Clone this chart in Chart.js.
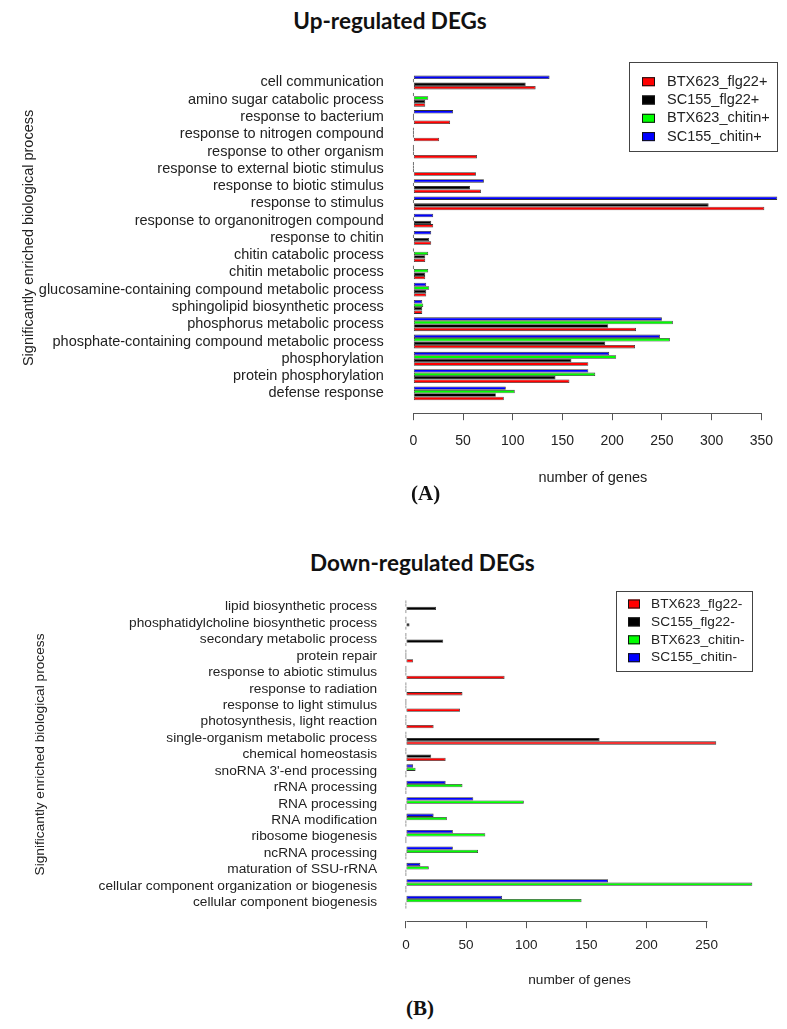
<!DOCTYPE html>
<html>
<head>
<meta charset="utf-8">
<script src="https://cdn.jsdelivr.net/npm/chart.js@4.4.1/dist/chart.umd.min.js"></script>
<style>
  body { margin: 0; background: #fff; }
  #page { position: relative; width: 787px; height: 1029px; background: #fff; overflow: hidden; }
  .panel { position: absolute; left: 0; }
  .title { position: absolute; font: bold 22.5px Lato, "Open Sans", sans-serif; color: #111; line-height: 26px; white-space: nowrap; }
  .tag { position: absolute; font: bold 21px "Liberation Serif", "Times New Roman", serif; color: #111; }
</style>
</head>
<body>
<div id="page">
  <div class="title" style="left:-3.5px;top:8px;width:787px;text-align:center">Up-regulated DEGs</div>
  <canvas id="chart-up" class="panel" width="787" height="490" style="top:0"></canvas>
  <div class="tag" style="left:411px;top:481px">(A)</div>
  <div class="title" style="left:310px;top:550px">Down-regulated DEGs</div>
  <canvas id="chart-down" class="panel" width="787" height="460" style="top:535px"></canvas>
  <div class="tag" style="left:406px;top:996px">(B)</div>
</div>
<script>
// ---- data (categories listed top to bottom as shown) ----
const upCategories = [
  'cell communication',
  'amino sugar catabolic process',
  'response to bacterium',
  'response to nitrogen compound',
  'response to other organism',
  'response to external biotic stimulus',
  'response to biotic stimulus',
  'response to stimulus',
  'response to organonitrogen compound',
  'response to chitin',
  'chitin catabolic process',
  'chitin metabolic process',
  'glucosamine-containing compound metabolic process',
  'sphingolipid biosynthetic process',
  'phosphorus metabolic process',
  'phosphate-containing compound metabolic process',
  'phosphorylation',
  'protein phosphorylation',
  'defense response',
];
const upBtxFlg22 =   [123, 12, 37, 26, 64, 63, 68, 353, 20, 18, 12, 12, 13, 9, 224, 223, 176, 157, 91];
const upScFlg22 =    [113, 12, 0, 0, 0, 0, 57, 297, 18, 16, 12, 12, 13, 9, 196, 193, 159, 143, 83];
const upBtxChitin =  [0, 15, 0, 0, 0, 0, 0, 0, 0, 0, 15, 15, 16, 10, 261, 258, 204, 183, 102];
const upScChitin =   [137, 0, 40, 0, 0, 0, 71, 366, 20, 18, 0, 0, 13, 9, 250, 248, 197, 176, 93];
const upSeriesNames = ['BTX623_flg22+', 'SC155_flg22+', 'BTX623_chitin+', 'SC155_chitin+'];
const upTicks = [0, 50, 100, 150, 200, 250, 300, 350];

const downCategories = [
  'lipid biosynthetic process',
  'phosphatidylcholine biosynthetic process',
  'secondary metabolic process',
  'protein repair',
  'response to abiotic stimulus',
  'response to radiation',
  'response to light stimulus',
  'photosynthesis, light reaction',
  'single-organism metabolic process',
  'chemical homeostasis',
  "snoRNA 3'-end processing",
  'rRNA processing',
  'RNA processing',
  'RNA modification',
  'ribosome biogenesis',
  'ncRNA processing',
  'maturation of SSU-rRNA',
  'cellular component organization or biogenesis',
  'cellular component biogenesis',
];
const downBtxFlg22 =  [0, 0, 0, 6, 82, 47, 45, 23, 258, 33, 0, 0, 0, 0, 0, 0, 0, 0, 0];
const downScFlg22 =   [25, 3, 31, 0, 0, 0, 0, 0, 161, 21, 0, 0, 0, 0, 0, 0, 0, 0, 0];
const downBtxChitin = [0, 0, 0, 0, 0, 0, 0, 0, 0, 0, 8, 47, 98, 34, 66, 60, 19, 288, 146];
const downScChitin =  [0, 0, 0, 0, 0, 0, 0, 0, 0, 0, 6, 33, 56, 23, 39, 39, 12, 168, 80];
const downSeriesNames = ['BTX623_flg22-', 'SC155_flg22-', 'BTX623_chitin-', 'SC155_chitin-'];
const downTicks = [0, 50, 100, 150, 200, 250];

const seriesColors = ['#ff0000', '#000000', '#00ff00', '#0000ff'];

Chart.defaults.font.family = '"Liberation Sans", Arial, sans-serif';
Chart.defaults.color = '#222';

// R-style axis line (only from first to last tick) plus a boxed legend
const rStylePlugin = {
  id: 'rStyle',
  afterDraw(chart, args, opts) {
    const ctx = chart.ctx;
    const xs = chart.scales.x;
    const y = Math.round(chart.chartArea.bottom) + 0.5;
    ctx.save();
    ctx.strokeStyle = '#555';
    ctx.lineWidth = 1;
    ctx.beginPath();
    ctx.moveTo(Math.round(xs.getPixelForValue(opts.ticks[0])) + 0.5, y);
    ctx.lineTo(Math.round(xs.getPixelForValue(opts.ticks[opts.ticks.length - 1])) + 0.5, y);
    ctx.stroke();

    const L = opts.legend;
    ctx.strokeStyle = '#444';
    ctx.strokeRect(L.left + 0.5, L.top + 0.5, L.width, L.height);
    ctx.font = L.font;
    ctx.textBaseline = 'middle';
    ctx.textAlign = 'left';
    // datasets are stored top-to-bottom (reversed), legend lists the original order
    const items = chart.data.datasets.slice().reverse();
    items.forEach((ds, i) => {
      const cy = L.firstRow + i * L.rowGap;
      ctx.fillStyle = ds.backgroundColor;
      ctx.fillRect(L.boxX, cy - L.boxH / 2, L.boxW, L.boxH);
      ctx.strokeStyle = '#111';
      ctx.strokeRect(L.boxX + 0.5, cy - L.boxH / 2 + 0.5, L.boxW - 1, L.boxH - 1);
      ctx.fillStyle = '#222';
      ctx.fillText(ds.label, L.textX, cy);
    });
    ctx.restore();
  }
};

function buildDatasets(names, series) {
  // R puts the first series at the bottom of each group, Chart.js at the top, so reverse
  return series.map((vals, k) => ({
    label: names[k],
    data: vals.map((v, i) => ({ x: v, y: i })),
    backgroundColor: seriesColors[k],
    borderColor: '#333',
    borderWidth: 0.8,
    borderSkipped: false,
    minBarLength: 1,
  })).reverse();
}

function makeChart(id, c) {
  const n = c.categories.length;
  const ext = 0.4 + 0.752; // half group + R's 4% axis expansion
  return new Chart(document.getElementById(id), {
    type: 'bar',
    data: { datasets: buildDatasets(c.names, c.series) },
    options: {
      indexAxis: 'y',
      responsive: false,
      animation: false,
      events: [],
      layout: { padding: { left: 0, right: c.padRight, top: c.padTop, bottom: 0 } },
      datasets: { bar: { categoryPercentage: 0.8, barPercentage: 1 } },
      plugins: {
        legend: { display: false },
        tooltip: { enabled: false },
        rStyle: { ticks: c.ticks, legend: c.legend },
      },
      scales: {
        x: {
          type: 'linear',
          min: c.xMin,
          max: c.xMax,
          afterBuildTicks: (s) => { s.ticks = c.ticks.map((v) => ({ value: v })); },
          afterFit: (s) => { s.height = c.xHeight; },
          grid: { drawOnChartArea: false, tickLength: 7, color: '#555' },
          border: { display: false },
          ticks: { padding: c.xTickPad, autoSkip: false, maxRotation: 0, color: '#222', font: { size: c.tickFont } },
          title: {
            display: true,
            text: 'number of genes',
            color: '#222',
            font: { size: c.font },
            padding: { top: 0, bottom: c.xTitlePad },
          },
        },
        y: {
          type: 'linear',
          reverse: true,
          offset: false,
          min: -ext,
          max: n - 1 + ext,
          afterBuildTicks: (s) => { s.ticks = c.categories.map((_, i) => ({ value: i })); },
          afterFit: (s) => { s.width = c.yWidth; },
          grid: { display: false, offset: false },
          border: { display: false },
          ticks: {
            autoSkip: false,
            padding: 7,
            color: '#222',
            font: { size: c.font },
            callback: (v) => c.categories[v],
          },
          title: {
            display: true,
            text: 'Significantly enriched biological process',
            color: '#222',
            font: { size: c.font },
            padding: { top: c.yTitlePad, bottom: 0 },
          },
        },
      },
    },
    plugins: [rStylePlugin],
  });
}

makeChart('chart-up', {
  categories: upCategories,
  names: upSeriesNames,
  series: [upBtxFlg22, upScFlg22, upBtxChitin, upScChitin],
  ticks: upTicks,
  xMin: -14.6, xMax: 375.8,
  padRight: 0, padTop: 62.6,
  yWidth: 398.8, xHeight: 76.8,
  xTickPad: 13, xTitlePad: 3.6, yTitlePad: 20,
  font: 14.5, tickFont: 14,
  legend: {
    left: 629, top: 62, width: 148, height: 89,
    firstRow: 81.7, rowGap: 18.3,
    boxX: 642, boxW: 13, boxH: 9, textX: 667,
    font: '14.5px "Liberation Sans", Arial, sans-serif',
  },
});

makeChart('chart-down', {
  categories: downCategories,
  names: downSeriesNames,
  series: [downBtxFlg22, downScFlg22, downBtxChitin, downScChitin],
  ticks: downTicks,
  xMin: -11.5, xMax: 300.2,
  padRight: 20, padTop: 52.8,
  yWidth: 392.1, xHeight: 73.8,
  xTickPad: 8.7, xTitlePad: 6.8, yTitlePad: 31.8,
  font: 13.7, tickFont: 13.5,
  legend: {
    left: 616, top: 56, width: 136, height: 80,
    firstRow: 69, rowGap: 17.9,
    boxX: 628, boxW: 12, boxH: 9, textX: 651,
    font: '13.7px "Liberation Sans", Arial, sans-serif',
  },
});
</script>
</body>
</html>
